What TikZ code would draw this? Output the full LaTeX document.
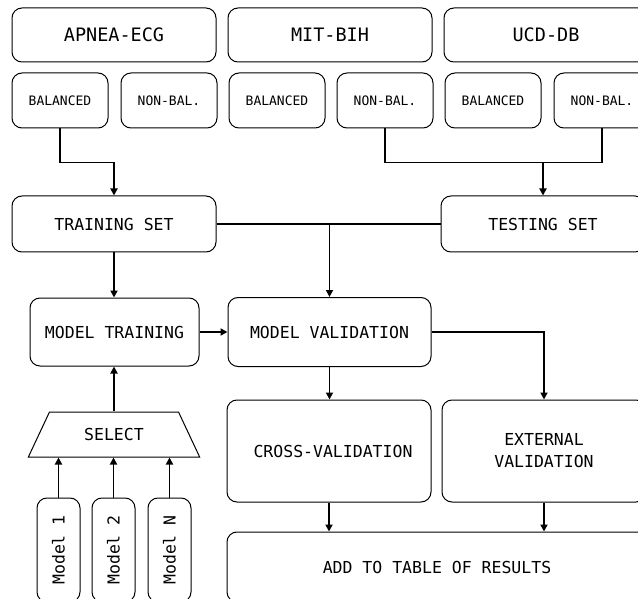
\documentclass[tikz,border=0pt]{standalone}
\usepackage{fontspec}
\setmonofont{DejaVu Sans Mono}
\usepackage{tikz}
\usetikzlibrary{arrows.meta,positioning,shapes.geometric,calc}

\begin{document}
\begin{tikzpicture}[x=1pt,y=-1pt,node distance=11pt and 11pt,
  box/.style={draw,rounded corners=10pt,line width=1pt,inner sep=0pt,align=center,font=\ttfamily\fontsize{16.5}{22}\selectfont},
  db/.style={box,minimum width=204pt,minimum height=54pt,font=\ttfamily\fontsize{18.5}{22}\selectfont},
  sub/.style={box,minimum width=96pt,minimum height=55pt,font=\ttfamily\fontsize{13}{15}\selectfont},
  mdl/.style={box,rotate=90,minimum width=104pt,minimum height=43pt},
  arr/.style={-{Triangle[length=7pt,width=7pt]},line width=1.8pt},
  ln/.style={line width=1.8pt}]
\clip (0,0) rectangle (638,599);
\node[db] (apnea) at (114,35) {APNEA-ECG};
\node[db,right=of apnea] (mit) {MIT-BIH};
\node[db,right=of mit] (ucd) {UCD-DB};
\node[sub] (bal1) at (60,100.5) {BALANCED};
\node[sub,right=12pt of bal1] (nb1) {NON-BAL.};
\node[sub,right=of nb1] (bal2) {BALANCED};
\node[sub,right=of bal2] (nb2) {NON-BAL.};
\node[sub,right=of nb2] (bal3) {BALANCED};
\node[sub,right=12pt of bal3] (nb3) {NON-BAL.};
\node[box,minimum width=204pt,minimum height=56pt] (trainset) at (114,224) {TRAINING SET};
\node[box,minimum width=204pt,minimum height=56pt] (testset) at (543,224) {TESTING SET};
\node[box,minimum width=169pt,minimum height=68pt] (mtrain) at (114.5,332) {MODEL TRAINING};
\node[box,minimum width=203pt,minimum height=69pt,right=28pt of mtrain] (mval) {MODEL VALIDATION};
\node[box,minimum width=204pt,minimum height=102pt] (cross) at (329,451) {\hspace*{8pt}CROSS-VALIDATION};
\node[box,minimum width=204pt,minimum height=102pt,right=10pt of cross] (ext) {EXTERNAL\\VALIDATION};
\node[box,minimum width=420pt,minimum height=70pt] (res) at (437,567) {ADD TO TABLE OF RESULTS};
\node[draw,trapezium,trapezium left angle=52,trapezium right angle=52,trapezium stretches=true,
  minimum width=172pt,minimum height=45pt,inner sep=0pt,line width=1pt,
  font=\ttfamily\fontsize{16.5}{22}\selectfont] (sel) at (114,434.5) {SELECT};
\node[mdl] (m1) at (58.5,550) {Model 1};
\node[mdl] (m2) at (113.5,550) {Model 2};
\node[mdl] (mn) at (169.5,550) {Model N};
\draw[arr] (bal1.south) -- ++(0,34) -| (trainset.north);
\draw[ln] (nb2.south) -- ++(0,34) coordinate (tjoin) -| (nb3.south);
\draw[arr] (tjoin -| testset.north) -- (testset.north);
\draw[ln] (trainset.east) -- (testset.west);
\draw[arr] (trainset.east -| mval.north) -- (mval.north);
\draw[arr] (trainset.south) -- (trainset.south |- mtrain.north);
\draw[arr] (mtrain.east) -- (mval.west);
\draw[arr] (mval.south) -- (mval.south |- cross.north);
\draw[arr] (mval.east) -| (ext.north);
\draw[arr] (cross.south) -- (cross.south |- res.north);
\draw[arr] (ext.south) -- (ext.south |- res.north);
\draw[arr] (sel.north) -- (sel.north |- mtrain.south);
\foreach \m in {m1,m2,mn}
  \draw[arr] (\m.east) -- (\m.east |- sel.south);
\end{tikzpicture}
\end{document}
